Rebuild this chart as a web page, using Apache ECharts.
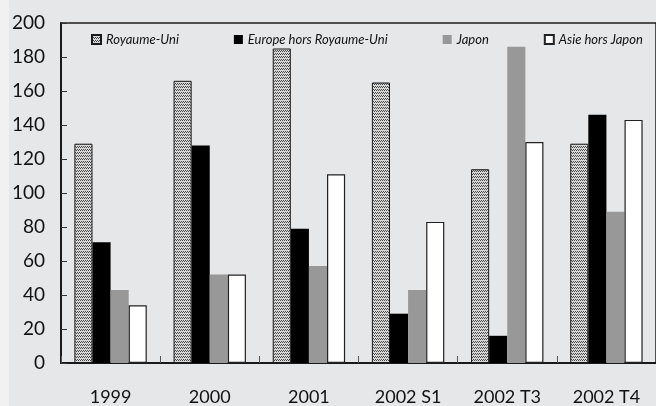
<!DOCTYPE html>
<html>
<head>
<meta charset="utf-8">
<script src="https://cdn.jsdelivr.net/npm/echarts@6/dist/echarts.min.js"></script>
<style>
  html, body { margin: 0; padding: 0; background: #f1f1f2; }
  #chart { width: 656px; height: 406px; }
</style>
</head>
<body>
<div id="chart"></div>
<script>
// Categories and series values
const categories = ['1999', '2000', '2001', '2002 S1', '2002 T3', '2002 T4'];
const royaumeUni = [129, 166, 185, 165, 114, 129];
const europeHorsRU = [71, 128, 79, 29, 16, 146];
const japon = [43, 52, 57, 43, 186, 89];
const asieHorsJapon = [34, 52, 111, 83, 130, 143];
const seriesNames = ['Royaume-Uni', 'Europe hors Royaume-Uni', 'Japon', 'Asie hors Japon'];

// Dotted fill used for the first series
function dotPattern() {
  const c = document.createElement('canvas');
  c.width = 4; c.height = 3;
  const g = c.getContext('2d');
  g.fillStyle = '#d8d8d8';
  g.fillRect(0, 0, 4, 3);
  g.fillStyle = '#4a4a4a';
  g.fillRect(0, 0, 1, 1);
  g.fillRect(2, 0, 1, 1);
  g.fillRect(1, 2, 1, 1);
  g.fillRect(3, 2, 1, 1);
  return c;
}

const FONT = 'Lato, "Open Sans", sans-serif';
const chart = echarts.init(document.getElementById('chart'), null, { renderer: 'canvas' });

chart.setOption({
  animation: false,
  backgroundColor: 'transparent',
  graphic: [{
    type: 'rect', z: -10, silent: true,
    shape: { x: 9, y: 0, width: 647, height: 406 },
    style: { fill: '#e6e7e9' }
  }],
  legend: {
    left: 91, top: 33, padding: 0,
    icon: 'rect',
    itemWidth: 9, itemHeight: 9, itemGap: 55,
    data: seriesNames,
    textStyle: { fontFamily: FONT, fontStyle: 'italic', fontSize: 13, color: '#111' }
  },
  grid: {
    left: 61, top: 23, width: 604, height: 340,
    show: true, borderColor: '#1e1e1e', borderWidth: 1.5, backgroundColor: 'transparent'
  },
  xAxis: {
    type: 'category',
    data: categories,
    axisLine: { lineStyle: { color: '#1a1a1a', width: 2 } },
    axisTick: { show: true, inside: true, length: 7, lineStyle: { color: '#555', width: 1 } },
    axisLabel: { margin: 25, fontFamily: FONT, fontSize: 18, color: '#111' }
  },
  yAxis: {
    type: 'value', min: 0, max: 200, interval: 20,
    axisLine: { show: true, lineStyle: { color: '#1a1a1a', width: 2 } },
    axisTick: { show: true, inside: true, length: 6, lineStyle: { color: '#333', width: 1 } },
    splitLine: { show: false },
    axisLabel: { margin: 16, fontFamily: FONT, fontSize: 19, color: '#111' }
  },
  series: [
    {
      name: seriesNames[0], type: 'bar', data: royaumeUni,
      barGap: '0%', barCategoryGap: '27%',
      itemStyle: { color: { image: dotPattern(), repeat: 'repeat' }, borderColor: '#1a1a1a', borderWidth: 1 }
    },
    {
      name: seriesNames[1], type: 'bar', data: europeHorsRU,
      barGap: '0%', barCategoryGap: '27%',
      itemStyle: { color: '#000000' }
    },
    {
      name: seriesNames[2], type: 'bar', data: japon,
      barGap: '0%', barCategoryGap: '27%',
      itemStyle: { color: '#989898' }
    },
    {
      name: seriesNames[3], type: 'bar', data: asieHorsJapon,
      barGap: '0%', barCategoryGap: '27%',
      itemStyle: { color: '#ffffff', borderColor: '#222', borderWidth: 1.2 }
    }
  ]
});
</script>
</body>
</html>
